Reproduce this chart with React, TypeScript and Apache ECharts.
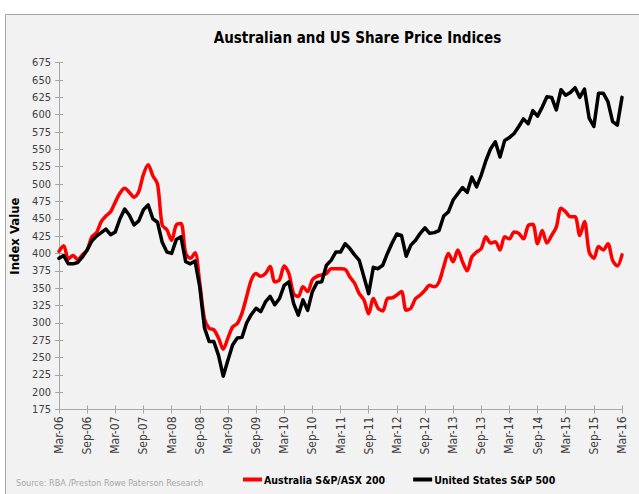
import React, { useEffect, useRef } from "react";
import * as echarts from "echarts";

const monthNames = ["Jan", "Feb", "Mar", "Apr", "May", "Jun", "Jul", "Aug", "Sep", "Oct", "Nov", "Dec"];
const firstYear = 2006;
const firstMonth = 2; // March
const monthCount = 121;

const asx200 = [
  403, 411, 392, 397, 391, 398, 405, 424, 430, 446,
  454, 460, 474, 487, 494, 488, 481, 489, 514, 528,
  512, 500, 441, 434, 419, 441, 443, 400, 393, 401,
  357, 306, 292, 290, 278, 262, 278, 294, 299, 314,
  338, 362, 371, 367, 371, 381, 359, 362, 382, 371,
  342, 338, 352, 345, 362, 367, 369, 371, 378, 378,
  378, 377, 366, 357, 342, 333, 313, 335, 321, 317,
  335, 336, 340, 345, 318, 321, 335, 340, 347, 354,
  352, 359, 381, 400, 388, 405, 388, 375, 395, 402,
  407, 424, 415, 417, 405, 424, 421, 431, 429, 421,
  440, 442, 414, 433, 415, 426, 438, 465, 460, 453,
  453, 426, 446, 402, 393, 410, 405, 414, 390, 382,
  398,
];

const sp500 = [
  393, 397, 385, 385, 387, 395, 405, 418, 425, 430,
  435, 427, 431, 450, 464, 455, 441, 447, 463, 470,
  450, 445, 416, 402, 400, 420, 424, 388, 385, 389,
  352, 293, 273, 273, 253, 223, 246, 268, 278, 279,
  300, 312, 321, 316, 330, 338, 326, 335, 354, 359,
  328, 311, 333, 318, 345, 358, 359, 383, 390, 402,
  402, 414, 407, 398, 390, 366, 342, 380, 378, 383,
  400, 415, 428, 426, 396, 412, 419, 429, 437, 429,
  430, 433, 454, 460, 477, 486, 495, 488, 510, 496,
  513, 534, 551, 561, 539, 563, 567, 573, 583, 594,
  587, 606, 598, 611, 626, 625, 607, 636, 628, 632,
  639, 625, 637, 595, 583, 631, 631, 619, 590, 585,
  625,
];

const categories: string[] = [];
for (let i = 0; i < monthCount; i++) {
  const m = (firstMonth + i) % 12;
  const y = firstYear + Math.floor((firstMonth + i) / 12);
  categories.push(monthNames[m] + "-" + String(y % 100).padStart(2, "0"));
}

const seriesNames = ["Australia S&P/ASX 200", "United States S&P 500"];
const FONT = "'Liberation Sans Narrow', 'Arial Narrow', 'DejaVu Sans Condensed', sans-serif";

export default function App() {
  const ref = useRef<HTMLDivElement>(null);
  useEffect(() => {
    const chart = echarts.init(ref.current!, null, { renderer: "svg" });
    const axisColor = "#a6a6a6";
    chart.setOption({
      animation: false,
      backgroundColor: "#ffffff",
      textStyle: { fontFamily: FONT },
      grid: { left: 55, right: 17, top: 62.7, bottom: 84.5, containLabel: false },
      graphic: [
        {
          type: "rect",
          z: -100,
          silent: true,
          shape: { x: 5.5, y: 14.5, width: 700, height: 600 },
          style: { fill: "#f2f2f2", stroke: "#a6a6a6", lineWidth: 1 },
        },
        {
          type: "text",
          x: 357.5,
          y: 38,
          style: {
            text: "Australian and US Share Price Indices",
            fontFamily: FONT,
            fontSize: 15,
            fontWeight: "bold",
            fill: "#000000",
            textAlign: "center",
            textVerticalAlign: "middle",
          },
        },
        {
          type: "text",
          x: 16,
          y: 483,
          style: {
            text: "Source: RBA /Preston Rowe Paterson Research",
            fontFamily: FONT,
            fontSize: 9,
            fill: "#a6a6a6",
            textVerticalAlign: "middle",
          },
        },
      ],
      legend: {
        left: 238,
        top: 469,
        icon: "rect",
        itemWidth: 19,
        itemHeight: 4,
        itemGap: 28,
        data: seriesNames,
        textStyle: { fontFamily: FONT, fontSize: 10.5, fontWeight: "bold", color: "#000000", padding: [0, 0, 0, -3] },
      },
      xAxis: [
        {
          type: "category",
          data: categories,
          boundaryGap: false,
          axisLine: { lineStyle: { color: axisColor, width: 1 } },
          axisTick: { interval: 5, length: 4, lineStyle: { color: axisColor } },
          axisLabel: {
            interval: 5,
            rotate: 90,
            margin: 7,
            fontSize: 12,
            color: "#404040",
            fontFamily: FONT,
          },
          splitLine: { show: false },
        },
        {
          type: "category",
          data: categories,
          boundaryGap: false,
          position: "bottom",
          axisLine: { show: false },
          axisTick: { interval: 5, length: 4, inside: true, lineStyle: { color: axisColor } },
          axisLabel: { show: false },
          splitLine: { show: false },
        },
      ],
      yAxis: [
        {
          type: "value",
          min: 175,
          max: 675,
          interval: 25,
          name: "Index Value",
          nameLocation: "middle",
          nameGap: 38,
          nameTextStyle: { fontFamily: FONT, fontSize: 13, fontWeight: "bold", color: "#000000" },
          axisLine: { show: true, lineStyle: { color: axisColor, width: 1 } },
          axisTick: { show: true, length: 4, lineStyle: { color: axisColor } },
          axisLabel: { margin: 8, fontSize: 11, color: "#404040", fontFamily: FONT },
          splitLine: { show: false },
        },
        {
          type: "value",
          min: 175,
          max: 675,
          interval: 25,
          position: "left",
          axisLine: { show: false },
          axisTick: { show: true, inside: true, length: 4, lineStyle: { color: axisColor } },
          axisLabel: { show: false },
          splitLine: { show: false },
        },
      ],
      series: [
        {
          name: seriesNames[0],
          type: "line",
          data: asx200,
          symbol: "none",
          smooth: 0.3,
          itemStyle: { color: "#ff0000" },
          lineStyle: { color: "#ff0000", width: 3.5, join: "round", cap: "round" },
          z: 3,
        },
        {
          name: seriesNames[1],
          type: "line",
          data: sp500,
          symbol: "none",
          smooth: false,
          itemStyle: { color: "#000000" },
          lineStyle: { color: "#000000", width: 3.5, join: "round", cap: "round" },
          z: 4,
        },
      ],
    });
    return () => chart.dispose();
  }, []);
  return <div ref={ref} style={{ position: "absolute", left: 0, top: 0, width: 639, height: 494 }} />;
}
